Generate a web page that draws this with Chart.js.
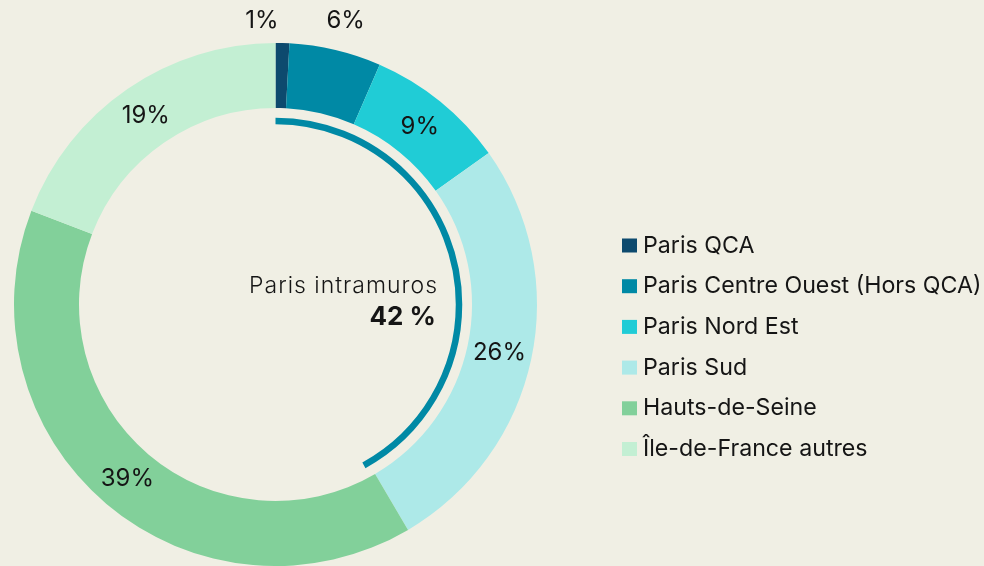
<!DOCTYPE html>
<html>
<head>
<meta charset="utf-8">
<script src="https://cdn.jsdelivr.net/npm/chart.js@4.4.1/dist/chart.umd.min.js"></script>
<style>
  html, body { margin: 0; padding: 0; background: #f0efe4; }
  #wrap { width: 984px; height: 566px; }
</style>
</head>
<body>
<div id="wrap"><canvas id="c" width="984" height="566"></canvas></div>
<script>
const categories = ["Paris QCA", "Paris Centre Ouest (Hors QCA)", "Paris Nord Est", "Paris Sud", "Hauts-de-Seine", "Île-de-France autres"];
const shares = [0.85, 5.67, 8.65, 26.37, 39.3, 19.16];
const isParis = [true, true, true, true, false, false];
const colors = ["#0d4a6e", "#0089a5", "#20ccd6", "#ade9e8", "#82d09a", "#c3efd3"];
const centerTitle = "Paris intramuros";

const FONT = "Inter, 'Liberation Sans', sans-serif";
const TEXT = "#151515";

const total = shares.reduce((a, b) => a + b, 0);
const parisShare = shares.reduce((s, v, i) => s + (isParis[i] ? v : 0), 0);
const parisPct = Math.round(parisShare / total * 100);

const overlay = {
  id: 'overlay',
  afterDatasetsDraw(chart) {
    const ctx = chart.ctx;
    const meta = chart.getDatasetMeta(0);
    const first = meta.data[0];
    const cx = first.x, cy = first.y;
    const R = first.outerRadius, r = first.innerRadius;

    // inner arc for Paris intramuros
    const arcR = r - 13;
    const a0 = -Math.PI / 2;
    const a1 = a0 + 2 * Math.PI * parisPct / 100;
    ctx.save();
    ctx.beginPath();
    ctx.arc(cx, cy, arcR, a0, a1);
    ctx.strokeStyle = "#0089a5";
    ctx.lineWidth = 6.5;
    ctx.lineCap = 'butt';
    ctx.stroke();
    ctx.restore();

    // percentage labels
    ctx.save();
    ctx.fillStyle = TEXT;
    ctx.font = "24px " + FONT;
    ctx.textBaseline = 'middle';
    meta.data.forEach((el, i) => {
      const mid = (el.startAngle + el.endAngle) / 2;
      const pct = Math.round(shares[i] / total * 100);
      const txt = pct + "%";
      if (pct < 8) {
        const y = chart.chartArea.top - 22;
        if (pct < 3) {
          ctx.textAlign = 'right';
          ctx.fillText(txt, cx + 3, y);
        } else {
          ctx.textAlign = 'center';
          ctx.fillText(txt, cx + (R + 44) * Math.cos(mid), y);
        }
      } else {
        const rr = (R + r) / 2;
        ctx.textAlign = 'center';
        ctx.fillText(txt, cx + rr * Math.cos(mid), cy + rr * Math.sin(mid));
      }
    });
    ctx.restore();

    // center text
    ctx.save();
    ctx.fillStyle = TEXT;
    ctx.textAlign = 'right';
    ctx.textBaseline = 'alphabetic';
    ctx.font = "300 23px " + FONT;
    ctx.letterSpacing = "1px";
    ctx.fillText(centerTitle, 438, 293);
    ctx.letterSpacing = "0px";
    ctx.font = "bold 26px " + FONT;
    ctx.fillText(parisPct + " %", 436, 325);
    ctx.restore();

    // legend
    ctx.save();
    ctx.textAlign = 'left';
    ctx.textBaseline = 'alphabetic';
    ctx.font = "23.2px " + FONT;
    categories.forEach((name, i) => {
      const base = 252.5 + 40.7 * i;
      ctx.fillStyle = colors[i];
      ctx.fillRect(622, base - 14, 15, 14);
      ctx.fillStyle = TEXT;
      ctx.fillText(name, 643, base);
    });
    ctx.restore();
  }
};

new Chart(document.getElementById('c'), {
  type: 'doughnut',
  data: {
    labels: categories,
    datasets: [{
      data: shares,
      backgroundColor: colors,
      borderWidth: 0,
      hoverOffset: 0
    }]
  },
  options: {
    responsive: false,
    devicePixelRatio: 1,
    animation: false,
    cutout: 196.5,
    layout: { padding: { left: 14, top: 43, right: 447, bottom: 0 } },
    plugins: {
      legend: { display: false },
      tooltip: { enabled: false },
      title: { display: false }
    }
  },
  plugins: [overlay]
});
</script>
</body>
</html>
